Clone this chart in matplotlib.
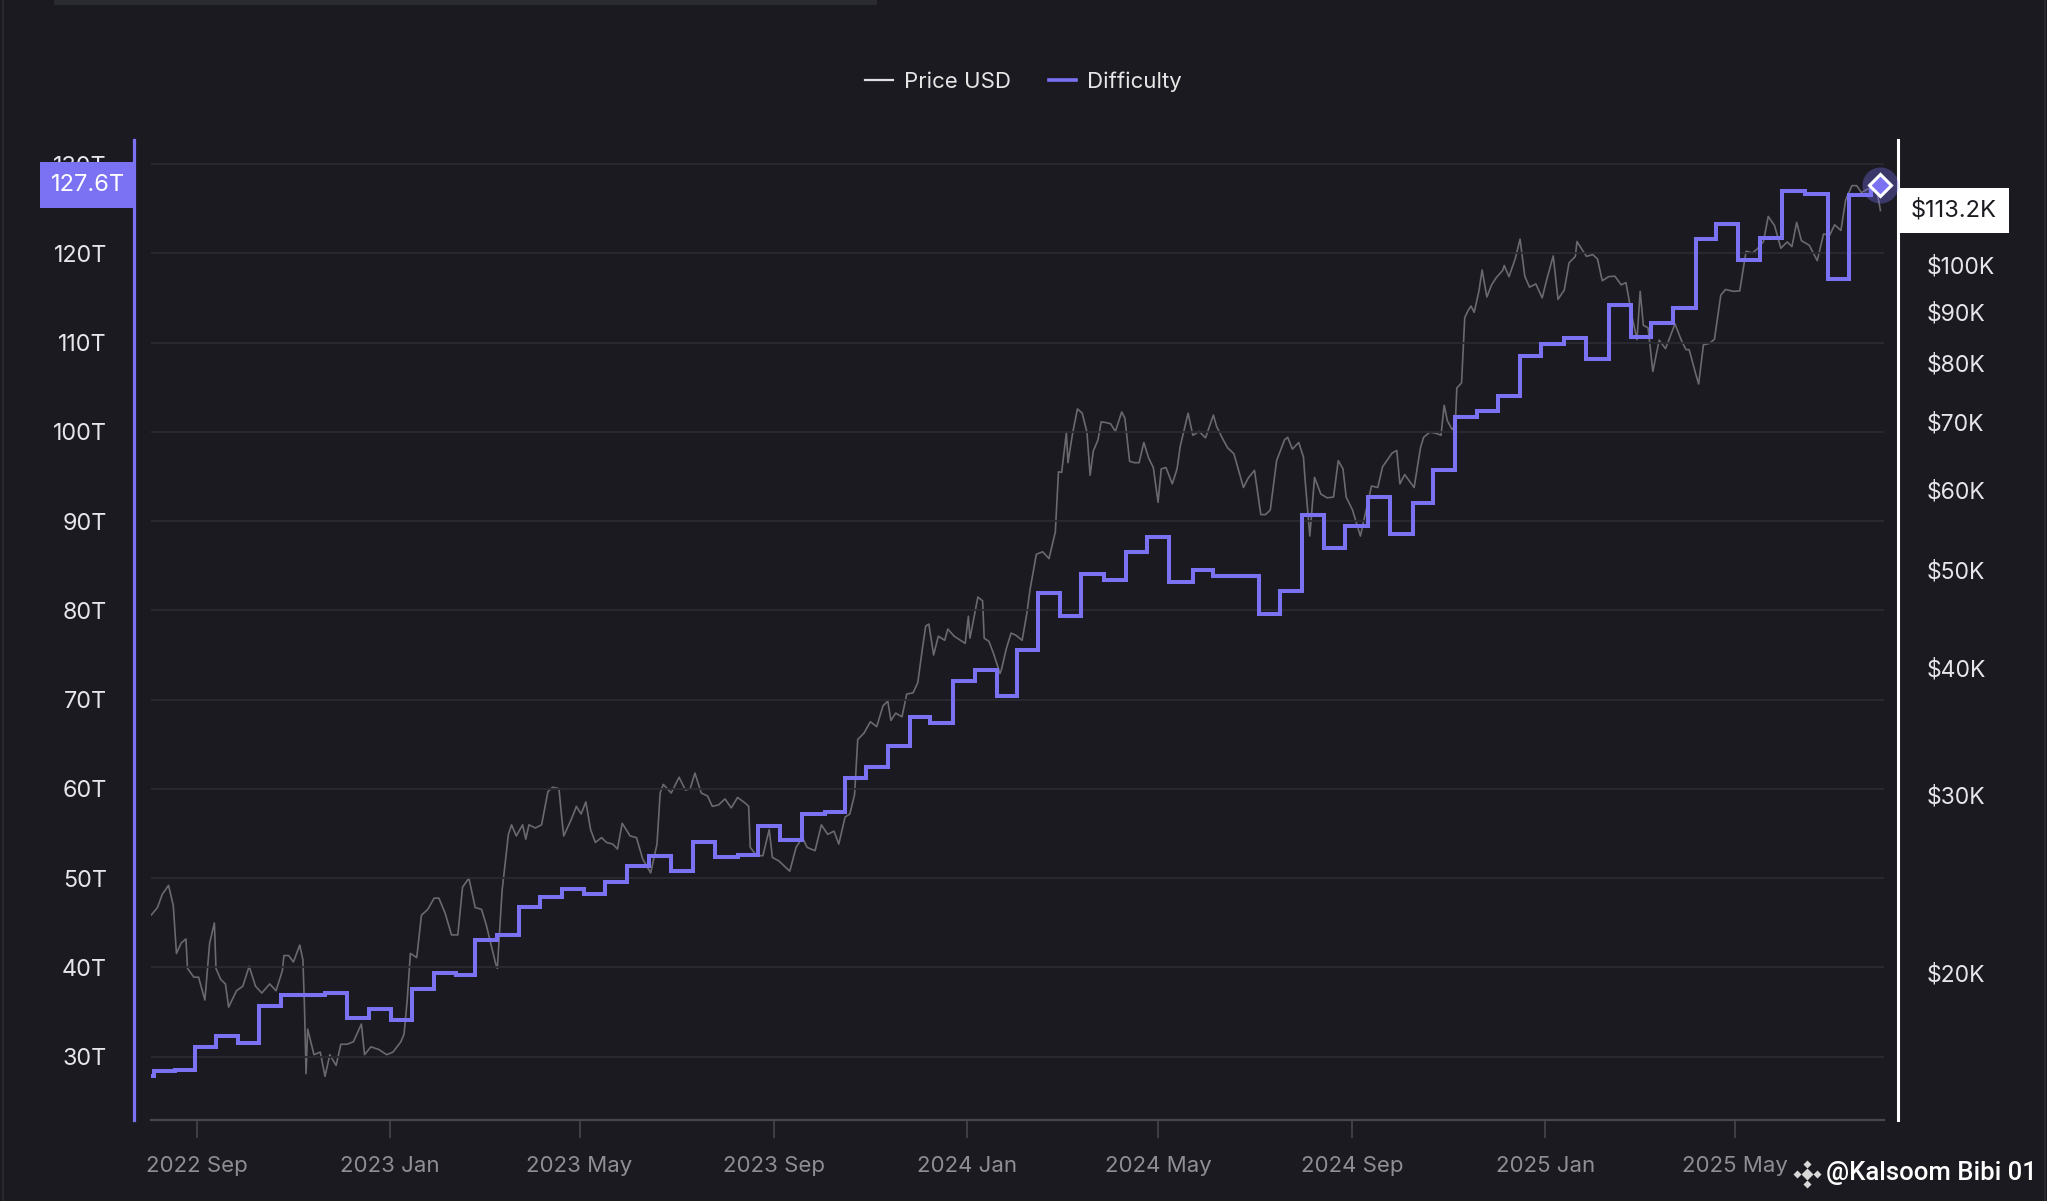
import numpy as np
import pandas as pd
import matplotlib
matplotlib.use("Agg")
import matplotlib.pyplot as plt
import matplotlib.dates as mdates
from matplotlib.patches import Rectangle
from matplotlib.lines import Line2D
from matplotlib.transforms import IdentityTransform

# ---------------- data ----------------
diff_dates = [
    "2022-08-03", "2022-08-05", "2022-08-18", "2022-08-31", "2022-09-13", "2022-09-27",
    "2022-10-10", "2022-10-24", "2022-11-21", "2022-12-05", "2022-12-19", "2023-01-02",
    "2023-01-15", "2023-01-29", "2023-02-12", "2023-02-24", "2023-03-10", "2023-03-24",
    "2023-04-06", "2023-04-20", "2023-05-04", "2023-05-17", "2023-05-31", "2023-06-14",
    "2023-06-28", "2023-07-12", "2023-07-26", "2023-08-09", "2023-08-22", "2023-09-05",
    "2023-09-19", "2023-10-03", "2023-10-16", "2023-10-29", "2023-11-12", "2023-11-26",
    "2023-12-09", "2023-12-23", "2024-01-06", "2024-01-20", "2024-02-02", "2024-02-15",
    "2024-02-29", "2024-03-13", "2024-03-28", "2024-04-11", "2024-04-24", "2024-05-08",
    "2024-05-23", "2024-06-05", "2024-07-04", "2024-07-17", "2024-07-31", "2024-08-14",
    "2024-08-27", "2024-09-11", "2024-09-25", "2024-10-09", "2024-10-22", "2024-11-05",
    "2024-11-19", "2024-12-02", "2024-12-16", "2024-12-29", "2025-01-13", "2025-01-27",
    "2025-02-10", "2025-02-24", "2025-03-09", "2025-03-23", "2025-04-06", "2025-04-19",
    "2025-05-03", "2025-05-17", "2025-05-31", "2025-06-14", "2025-06-29", "2025-07-12",
    "2025-07-26",
]
diff_values = [  # trillions
    27.8, 28.35, 28.5, 31.1, 32.3, 31.5,
    35.7, 36.9, 37.1, 34.3, 35.4, 34.1,
    37.6, 39.4, 39.2, 43.1, 43.6, 46.8,
    47.9, 48.8, 48.2, 49.6, 51.4, 52.5,
    50.8, 54.0, 52.4, 52.6, 55.8, 54.3,
    57.2, 57.4, 61.2, 62.5, 64.8, 68.1,
    67.4, 72.1, 73.3, 70.4, 75.6, 81.9,
    79.4, 84.1, 83.4, 86.5, 88.2, 83.2,
    84.5, 83.8, 79.6, 82.2, 90.7, 87.0,
    89.5, 92.7, 88.5, 92.0, 95.7, 101.7,
    102.3, 104.0, 108.5, 109.8, 110.5, 108.2,
    114.2, 110.6, 112.2, 113.9, 121.6, 123.3,
    119.3, 121.7, 127.0, 126.6, 117.1, 126.5,
    127.6,
]
series_end = "2025-08-01"

price_dates = [
    "2022-08-03", "2022-08-07", "2022-08-10", "2022-08-14", "2022-08-17", "2022-08-19",
    "2022-08-22", "2022-08-25", "2022-08-26", "2022-08-30", "2022-09-02", "2022-09-06",
    "2022-09-09", "2022-09-12", "2022-09-13", "2022-09-16", "2022-09-19", "2022-09-21",
    "2022-09-26", "2022-09-30", "2022-10-04", "2022-10-08", "2022-10-12", "2022-10-17",
    "2022-10-21", "2022-10-25", "2022-10-26", "2022-10-29", "2022-11-01", "2022-11-05",
    "2022-11-07", "2022-11-08", "2022-11-09", "2022-11-10", "2022-11-14", "2022-11-18",
    "2022-11-21", "2022-11-24", "2022-11-28", "2022-12-01", "2022-12-05", "2022-12-09",
    "2022-12-14", "2022-12-16", "2022-12-20", "2022-12-25", "2022-12-30",
    "2023-01-03", "2023-01-08", "2023-01-10", "2023-01-12", "2023-01-14", "2023-01-18",
    "2023-01-21", "2023-01-25", "2023-01-29", "2023-02-01", "2023-02-05", "2023-02-09",
    "2023-02-13", "2023-02-16", "2023-02-20", "2023-02-24", "2023-02-28", "2023-03-03",
    "2023-03-09", "2023-03-10", "2023-03-13", "2023-03-17", "2023-03-19", "2023-03-22",
    "2023-03-26", "2023-03-28", "2023-03-30", "2023-04-03", "2023-04-07", "2023-04-11",
    "2023-04-14", "2023-04-18", "2023-04-20", "2023-04-21", "2023-04-26", "2023-04-29",
    "2023-05-02", "2023-05-05", "2023-05-08", "2023-05-11", "2023-05-15", "2023-05-18",
    "2023-05-22", "2023-05-25", "2023-05-28", "2023-06-02", "2023-06-06", "2023-06-10",
    "2023-06-15", "2023-06-19", "2023-06-21", "2023-06-23", "2023-06-28", "2023-07-03",
    "2023-07-07", "2023-07-10", "2023-07-13", "2023-07-17", "2023-07-21", "2023-07-24",
    "2023-07-28", "2023-08-01", "2023-08-05", "2023-08-09", "2023-08-14", "2023-08-16",
    "2023-08-17", "2023-08-21", "2023-08-25", "2023-08-29", "2023-08-31", "2023-09-04",
    "2023-09-11", "2023-09-15", "2023-09-19", "2023-09-22", "2023-09-27", "2023-10-01",
    "2023-10-05", "2023-10-09", "2023-10-12", "2023-10-16", "2023-10-19", "2023-10-22",
    "2023-10-24", "2023-10-28", "2023-11-01", "2023-11-05", "2023-11-09", "2023-11-12",
    "2023-11-14", "2023-11-17", "2023-11-21", "2023-11-24", "2023-11-28", "2023-12-01",
    "2023-12-04", "2023-12-06", "2023-12-08", "2023-12-11", "2023-12-14", "2023-12-18",
    "2023-12-20", "2023-12-24", "2023-12-28", "2023-12-31",
    "2024-01-02", "2024-01-03", "2024-01-08", "2024-01-11", "2024-01-12", "2024-01-15",
    "2024-01-18", "2024-01-22", "2024-01-23", "2024-01-26", "2024-01-29", "2024-02-01",
    "2024-02-05", "2024-02-08", "2024-02-10", "2024-02-14", "2024-02-18", "2024-02-22",
    "2024-02-26", "2024-02-28", "2024-03-01", "2024-03-04", "2024-03-05", "2024-03-08",
    "2024-03-11", "2024-03-14", "2024-03-17", "2024-03-19", "2024-03-21", "2024-03-24",
    "2024-03-26", "2024-03-29", "2024-04-01", "2024-04-04", "2024-04-08", "2024-04-10",
    "2024-04-13", "2024-04-16", "2024-04-19", "2024-04-22", "2024-04-25", "2024-04-28",
    "2024-05-01", "2024-05-03", "2024-05-06", "2024-05-10", "2024-05-13", "2024-05-15",
    "2024-05-20", "2024-05-23", "2024-05-27", "2024-05-31", "2024-06-05", "2024-06-07",
    "2024-06-11", "2024-06-14", "2024-06-18", "2024-06-24", "2024-06-27", "2024-07-01",
    "2024-07-05", "2024-07-08", "2024-07-11", "2024-07-15", "2024-07-20", "2024-07-22",
    "2024-07-25", "2024-07-29", "2024-08-01", "2024-08-02", "2024-08-05", "2024-08-08",
    "2024-08-12", "2024-08-16", "2024-08-20", "2024-08-23", "2024-08-26", "2024-08-28",
    "2024-09-01", "2024-09-06", "2024-09-10", "2024-09-13", "2024-09-17", "2024-09-20",
    "2024-09-26", "2024-09-29", "2024-10-01", "2024-10-04", "2024-10-10", "2024-10-14",
    "2024-10-16", "2024-10-20", "2024-10-24", "2024-10-27", "2024-10-29", "2024-10-31",
    "2024-11-03", "2024-11-05", "2024-11-06", "2024-11-09", "2024-11-11", "2024-11-13",
    "2024-11-15", "2024-11-17", "2024-11-20", "2024-11-22", "2024-11-25", "2024-11-28",
    "2024-12-01", "2024-12-05", "2024-12-06", "2024-12-09", "2024-12-13", "2024-12-16",
    "2024-12-19", "2024-12-22", "2024-12-26", "2024-12-30",
    "2025-01-02", "2025-01-06", "2025-01-09", "2025-01-13", "2025-01-16", "2025-01-20",
    "2025-01-21", "2025-01-27", "2025-01-31", "2025-02-03", "2025-02-06", "2025-02-10",
    "2025-02-14", "2025-02-18", "2025-02-21", "2025-02-25", "2025-02-28", "2025-03-02",
    "2025-03-04", "2025-03-07", "2025-03-10", "2025-03-14", "2025-03-18", "2025-03-20",
    "2025-03-24", "2025-03-28", "2025-03-31", "2025-04-02", "2025-04-06", "2025-04-08",
    "2025-04-11", "2025-04-15", "2025-04-18", "2025-04-22", "2025-04-25", "2025-04-30",
    "2025-05-04", "2025-05-08", "2025-05-12", "2025-05-15", "2025-05-19", "2025-05-22",
    "2025-05-26", "2025-05-30", "2025-06-03", "2025-06-06", "2025-06-09", "2025-06-12",
    "2025-06-17", "2025-06-22", "2025-06-26", "2025-06-30", "2025-07-03", "2025-07-07",
    "2025-07-10", "2025-07-14", "2025-07-17", "2025-07-20", "2025-07-23", "2025-07-27",
    "2025-07-30", "2025-08-01",
]
price_k = [  # thousands USD
    22.8, 23.2, 23.9, 24.4, 23.3, 20.9,
    21.4, 21.6, 20.2, 19.8, 19.8, 18.8,
    21.4, 22.4, 20.2, 19.7, 19.5, 18.5,
    19.2, 19.4, 20.3, 19.4, 19.1, 19.5,
    19.2, 20.1, 20.8, 20.8, 20.5, 21.3,
    20.6, 18.5, 15.9, 17.6, 16.6, 16.7,
    15.8, 16.6, 16.2, 17.0, 17.0, 17.1,
    17.8, 16.6, 16.9, 16.8, 16.6,
    16.7, 17.1, 17.4, 18.8, 20.9, 20.7,
    22.8, 23.1, 23.7, 23.7, 22.9, 21.8,
    21.8, 24.3, 24.8, 23.2, 23.1, 22.3,
    20.4, 20.2, 24.1, 27.4, 28.0, 27.3,
    28.0, 27.1, 28.0, 27.8, 28.0, 30.2,
    30.5, 30.4, 28.2, 27.3, 28.4, 29.2,
    28.7, 29.5, 27.7, 26.9, 27.2, 26.9,
    26.8, 26.5, 28.1, 27.3, 27.2, 25.9,
    25.1, 26.8, 30.1, 30.7, 30.1, 31.2,
    30.3, 30.4, 31.5, 30.1, 29.9, 29.2,
    29.3, 29.7, 29.1, 29.8, 29.4, 29.2,
    26.6, 26.1, 26.1, 27.7, 26.0, 25.8,
    25.2, 26.6, 27.2, 26.6, 26.4, 28.0,
    27.4, 27.6, 26.8, 28.5, 28.7, 30.0,
    34.0, 34.5, 35.4, 35.0, 36.7, 37.1,
    35.5, 36.1, 35.8, 37.7, 37.8, 38.7,
    41.9, 44.0, 44.2, 41.2, 43.0, 42.6,
    43.7, 43.0, 42.6, 42.3,
    45.0, 42.8, 47.0, 46.6, 42.8, 42.5,
    41.3, 39.5, 39.9, 41.8, 43.3, 43.1,
    42.6, 45.3, 47.8, 51.8, 52.1, 51.3,
    54.5, 62.5, 62.4, 68.3, 63.8, 68.3,
    72.1, 71.4, 68.4, 62.0, 65.5, 67.2,
    70.0, 69.9, 69.7, 68.5, 71.6, 70.6,
    64.0, 63.8, 63.8, 66.8, 64.5, 63.1,
    58.3, 62.9, 63.1, 60.8, 62.9, 66.2,
    71.4, 67.9, 68.5, 67.5, 71.1, 69.3,
    67.3, 66.0, 65.1, 60.3, 61.6, 62.7,
    56.7, 56.7, 57.3, 64.1, 67.2, 67.6,
    65.8, 66.8, 64.6, 61.4, 54.0, 61.7,
    59.4, 58.9, 59.0, 64.1, 62.9, 59.0,
    57.3, 54.0, 57.6, 60.5, 60.3, 63.2,
    65.2, 65.6, 60.8, 62.1, 60.3, 66.0,
    67.6, 68.4, 68.2, 67.9, 72.7, 70.2,
    68.8, 69.5, 75.6, 76.5, 88.7, 90.1,
    91.1, 89.8, 94.3, 98.9, 93.0, 95.6,
    97.2, 98.8, 99.9, 97.4, 101.5, 106.1,
    97.5, 95.1, 95.8, 92.8,
    96.9, 102.1, 92.5, 94.5, 100.5, 102.0,
    105.5, 102.0, 102.4, 101.4, 96.5, 97.4,
    97.5, 95.6, 96.1, 88.7, 84.4, 94.2,
    87.2, 86.7, 78.5, 84.3, 82.7, 84.2,
    87.5, 84.3, 82.5, 82.5, 78.2, 76.3,
    83.4, 83.7, 84.5, 93.4, 94.6, 94.2,
    94.3, 103.2, 102.8, 103.7, 105.5, 111.7,
    109.4, 103.9, 105.4, 104.3, 110.2, 105.7,
    104.6, 101.0, 107.3, 107.1, 109.6, 108.2,
    116.0, 119.8, 119.8, 117.9, 118.7, 119.4,
    117.8, 113.2,
]

left_ticks = [30, 40, 50, 60, 70, 80, 90, 100, 110, 120, 130]
right_ticks_k = [20, 30, 40, 50, 60, 70, 80, 90, 100]
legend_labels = ["Price USD", "Difficulty"]
watermark = "@Kalsoom Bibi 01"

# ---------------- style ----------------
W, H, DPI = 2047, 1201, 100
BG = "#1b1a20"
PURPLE = "#7a72f2"
PRICE_C = "#69696e"
GRID = "#2a2a31"
AXIS_C = "#46464c"
XT_C = "#8e8e94"
YT_C = "#e6e6ea"
FS = 16.8

plt.rcParams["font.family"] = ["Inter", "DejaVu Sans"]

fig = plt.figure(figsize=(W / DPI, H / DPI), dpi=DPI, facecolor=BG)

ax_l, ax_r, ax_t, ax_b = 151, 1884, 140, 1120
ax = fig.add_axes([ax_l / W, 1 - ax_b / H, (ax_r - ax_l) / W, (ax_b - ax_t) / H])
ax2 = ax.twinx()
ax.set_zorder(ax2.get_zorder() + 1)
ax.patch.set_visible(False)
ax2.patch.set_visible(False)

d_dates = pd.to_datetime(diff_dates + [series_end])
d_vals = diff_values + [diff_values[-1]]
p_dates = pd.to_datetime(price_dates)
p_vals = np.array(price_k) * 1000.0

ax2.plot(p_dates, p_vals, color=PRICE_C, lw=1.2, zorder=2)
ax.plot(d_dates, d_vals, color=PURPLE, lw=2.9, drawstyle="steps-post",
        solid_joinstyle="miter", zorder=4)

# last point marker
ax.plot([d_dates[-1]], [d_vals[-1]], marker="o", ms=26, color=PURPLE, alpha=0.35,
        mec="none", clip_on=False, zorder=6)
ax.plot([d_dates[-1]], [d_vals[-1]], marker="D", ms=11, mfc=PURPLE, mec="white",
        mew=2.2, clip_on=False, zorder=7)

# x limits (pixel layout: 2022-09-01 at x=197, 1.5807 px/day)
x0 = mdates.date2num(pd.Timestamp("2022-09-01"))
ax.set_xlim(x0 + (ax_l - 197) / 1.5807, x0 + (ax_r - 197) / 1.5807)
ax.set_ylim(22.91, 132.69)
ax2.set_yscale("log")
ax2.set_ylim(14310, 132900)

# spines
for s in ["top", "right"]:
    ax.spines[s].set_visible(False)
for s in ["top", "left", "bottom"]:
    ax2.spines[s].set_visible(False)
ax.spines["left"].set_position(("outward", 17 * 0.72))
ax.spines["left"].set_color(PURPLE)
ax.spines["left"].set_linewidth(2.3)
ax.spines["bottom"].set_color(AXIS_C)
ax.spines["bottom"].set_linewidth(1.6)
ax2.spines["right"].set_position(("outward", 14 * 0.72))
ax2.spines["right"].set_color("white")
ax2.spines["right"].set_linewidth(2.2)

# x ticks
ax.xaxis.set_major_locator(mdates.MonthLocator(bymonth=(1, 5, 9), bymonthday=1))
ax.xaxis.set_major_formatter(mdates.DateFormatter("%Y %b"))
ax.tick_params(axis="x", length=13, width=1.2, color=AXIS_C, pad=13,
               labelsize=16, labelcolor=XT_C)

# left y ticks
ax.set_yticks(left_ticks)
ax.set_yticklabels([f"{v}T" for v in left_ticks])
ax.tick_params(axis="y", length=0, pad=(134 - 107) * 0.72, labelsize=FS, labelcolor=YT_C)
ax.yaxis.grid(True, color=GRID, lw=1.3)
ax.set_axisbelow(True)

# right y ticks
ax2.set_yticks([v * 1000 for v in right_ticks_k])
ax2.set_yticklabels([f"${v}K" for v in right_ticks_k])
ax2.yaxis.set_minor_locator(matplotlib.ticker.NullLocator())
ax2.tick_params(axis="y", length=0, pad=(1927 - 1898) * 0.72, labelsize=16.5, labelcolor=YT_C)

# value boxes (positions from the data through the axes transforms, in pixels)
y_d = ax.transData.transform((x0, d_vals[-1]))[1]
y_p = ax2.transData.transform((x0, p_vals[-1]))[1]
fig.add_artist(Rectangle((40, y_d - 23), 95, 46, transform=IdentityTransform(),
                         fc=PURPLE, ec="none", zorder=20))
fig.add_artist(matplotlib.text.Text(88, y_d, f"{d_vals[-1]:.1f}T", transform=IdentityTransform(),
                                    ha="center", va="center", fontsize=17, color="white", zorder=21))
fig.add_artist(Rectangle((1900, y_p - 22.5), 109, 45, transform=IdentityTransform(),
                         fc="white", ec="none", zorder=20))
fig.add_artist(matplotlib.text.Text(1954, y_p, f"${p_vals[-1] / 1000:.1f}K", transform=IdentityTransform(),
                                    ha="center", va="center", fontsize=17, color=BG, zorder=21))

# legend
handles = [Line2D([], [], color="#e0e0e0", lw=1.6), Line2D([], [], color=PURPLE, lw=2.6)]
fig.legend(handles, legend_labels, loc="center", bbox_to_anchor=(0.5, 1 - 82 / H), ncol=2,
           frameon=False, fontsize=16, labelcolor="#e6e6e6", handlelength=1.25,
           handletextpad=0.5, columnspacing=1.7)

# decorations: top bar, frame lines
fig.add_artist(Rectangle((54 / W, 1 - 5 / H), (877 - 54) / W, 5 / H, transform=fig.transFigure,
                         fc="#2a2a31", ec="none"))
fig.add_artist(Line2D([3 / W, 3 / W], [0, 1], transform=fig.transFigure, color="#28282e", lw=1.5))
fig.add_artist(Line2D([2045 / W, 2045 / W], [0, 1], transform=fig.transFigure, color="#28282e", lw=1.5))

# watermark
cx, cy = 1807, 1174
for dx, dy, ms in [(0, 0, 6.5), (-10, 0, 4.5), (10, 0, 4.5), (0, -10, 4.5), (0, 10, 4.5)]:
    fig.add_artist(Line2D([(cx + dx) / W], [1 - (cy + dy) / H], transform=fig.transFigure,
                          marker="D", ms=ms, color="#d8d8d8", mec="none", lw=0))
fig.text(1826 / W, 1 - 1173 / H, watermark, fontsize=18.5, color="white",
         family=["Roboto", "DejaVu Sans"], fontweight="medium", va="center", ha="left")

fig.savefig("out.png", dpi=DPI, facecolor=BG)
